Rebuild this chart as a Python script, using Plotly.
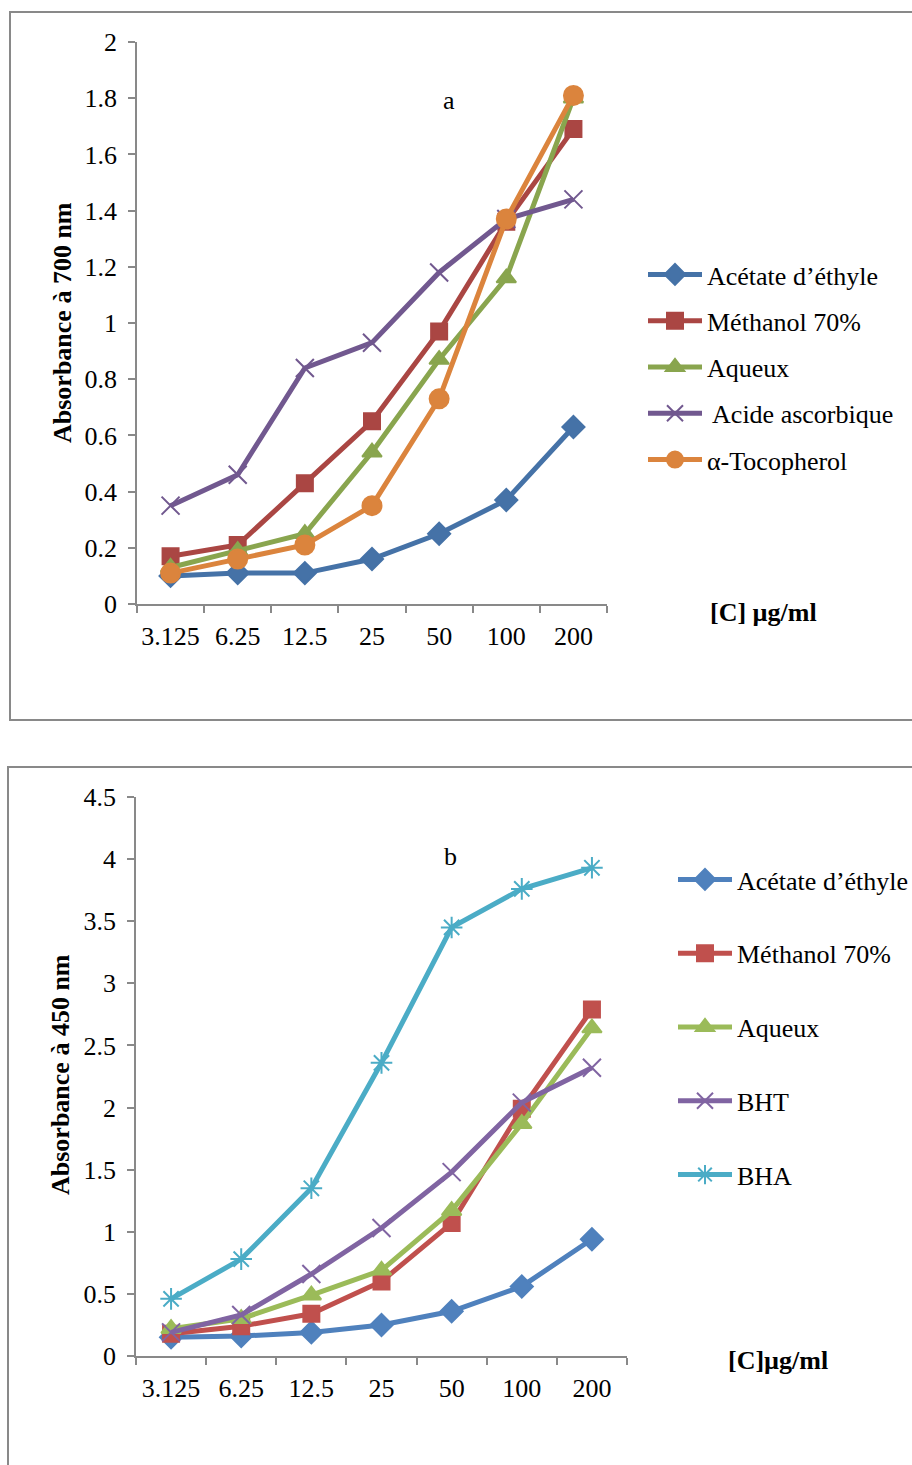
import plotly.graph_objects as go

# Concentrations (µg/ml) shared by both panels
conc = ["3.125", "6.25", "12.5", "25", "50", "100", "200"]

# Panel a: reducing power, absorbance at 700 nm
a_acetate = [0.10, 0.11, 0.11, 0.16, 0.25, 0.37, 0.63]
a_methanol = [0.17, 0.21, 0.43, 0.65, 0.97, 1.36, 1.69]
a_aqueux = [0.13, 0.19, 0.25, 0.54, 0.87, 1.16, 1.80]
a_ascorbique = [0.35, 0.46, 0.84, 0.93, 1.18, 1.37, 1.44]
a_tocopherol = [0.11, 0.16, 0.21, 0.35, 0.73, 1.37, 1.81]

# Panel b: absorbance at 450 nm
b_acetate = [0.15, 0.16, 0.19, 0.25, 0.36, 0.56, 0.94]
b_methanol = [0.18, 0.24, 0.34, 0.60, 1.07, 1.99, 2.79]
b_aqueux = [0.22, 0.30, 0.49, 0.69, 1.17, 1.87, 2.64]
b_bht = [0.19, 0.33, 0.66, 1.03, 1.48, 2.04, 2.32]
b_bha = [0.46, 0.78, 1.35, 2.36, 3.45, 3.76, 3.93]

W, H = 912, 1465
FONT = "Liberation Serif, Times New Roman, serif"
FS = 26
AXC = "#898989"


def px(x):
    return x / W


def py(y):
    return 1 - y / H


fig = go.Figure()

series_a = [
    ("Acétate d’éthyle", a_acetate, "#4572A7", "diamond", 17),
    ("Méthanol 70%", a_methanol, "#AA4643", "square", 16),
    ("Aqueux", a_aqueux, "#89A54E", "triangle-up", 17),
    (" Acide ascorbique", a_ascorbique, "#71588F", "x-thin-open", 18),
    ("α-Tocopherol", a_tocopherol, "#DB843D", "circle", 19),
]
series_b = [
    ("Acétate d’éthyle", b_acetate, "#4F81BD", "diamond", 17),
    ("Méthanol 70%", b_methanol, "#C0504D", "square", 16),
    ("Aqueux", b_aqueux, "#9BBB59", "triangle-up", 17),
    ("BHT", b_bht, "#8064A2", "x-thin-open", 18),
    ("BHA", b_bha, "#4BACC6", "asterisk-open", 18),
]

for i, (name, vals, col, sym, sz) in enumerate(series_a):
    fig.add_trace(go.Scatter(
        x=conc, y=vals, name=name, mode="lines+markers",
        line=dict(color=col, width=5),
        marker=dict(symbol=sym, size=sz, color=col, line=dict(color=col, width=2)),
        xaxis="x", yaxis="y", legend="legend", legendgroup=f"a{i}",
    ))

for i, (name, vals, col, sym, sz) in enumerate(series_b):
    fig.add_trace(go.Scatter(
        x=conc, y=vals, name=name, mode="lines+markers",
        line=dict(color=col, width=5),
        marker=dict(symbol=sym, size=sz, color=col, line=dict(color=col, width=2)),
        xaxis="x2", yaxis="y2", legend="legend2", legendgroup=f"b{i}",
    ))

xcommon = dict(
    type="category", categoryorder="array", categoryarray=conc,
    range=[-0.5, 6.5], showline=True, linecolor=AXC, linewidth=1.5,
    ticks="outside", tickson="boundaries", ticklen=7, tickcolor=AXC, tickwidth=1.5,
    showgrid=False, zeroline=False, ticklabelstandoff=8, tickangle=0,
    automargin=False,
    tickfont=dict(family=FONT, size=FS, color="black"), fixedrange=True,
)
ycommon = dict(
    showline=True, linecolor=AXC, linewidth=1.5,
    ticks="outside", ticklen=7, tickcolor=AXC, tickwidth=1.5,
    showgrid=False, zeroline=False, ticklabelstandoff=6,
    automargin=False,
    tickfont=dict(family=FONT, size=FS, color="black"), fixedrange=True,
)

legend_common = dict(
    xanchor="left", yanchor="top",
    bgcolor="rgba(0,0,0,0)", borderwidth=0,
    font=dict(family=FONT, size=FS, color="black"),
    itemwidth=54, itemclick=False, itemdoubleclick=False,
)


def note(text, x, y, angle=0):
    return dict(text=text, x=px(x), y=py(y), xref="paper", yref="paper",
                xanchor="center", yanchor="middle", textangle=angle,
                showarrow=False, font=dict(family=FONT, size=FS, color="black"))


fig.update_layout(
    template="none",
    width=W, height=H,
    margin=dict(l=0, r=0, t=0, b=0, pad=0, autoexpand=False),
    paper_bgcolor="white", plot_bgcolor="white",
    font=dict(family=FONT, size=FS, color="black"),
    xaxis=dict(xcommon, domain=[px(137), px(607)], anchor="y"),
    yaxis=dict(ycommon, domain=[py(604), py(42)], range=[0, 2], dtick=0.2, anchor="x"),
    xaxis2=dict(xcommon, domain=[px(136), px(627)], anchor="y2"),
    yaxis2=dict(ycommon, domain=[py(1356), py(797)], range=[0, 4.5], dtick=0.5, anchor="x2"),
    legend=dict(legend_common, x=px(643), y=py(251), tracegroupgap=9.5),
    legend2=dict(legend_common, x=px(673), y=py(856), tracegroupgap=37),
    shapes=[
        dict(type="rect", xref="paper", yref="paper",
             x0=px(10), x1=1.02, y0=py(720), y1=py(12),
             line=dict(color=AXC, width=2), fillcolor="rgba(0,0,0,0)", layer="below"),
        dict(type="rect", xref="paper", yref="paper",
             x0=px(8), x1=1.02, y0=-0.02, y1=py(767),
             line=dict(color=AXC, width=2), fillcolor="rgba(0,0,0,0)", layer="below"),
    ],
    annotations=[
        note("a", 449, 101),
        note("<b>Absorbance à 700 nm</b>", 62, 323, -90),
        note("<b>[C] µg/ml</b>", 763, 612),
        note("b", 450, 857),
        note("<b>Absorbance à 450 nm</b>", 60, 1075, -90),
        note("<b>[C]µg/ml</b>", 778, 1360),
    ],
)

fig.write_html("out.html")
